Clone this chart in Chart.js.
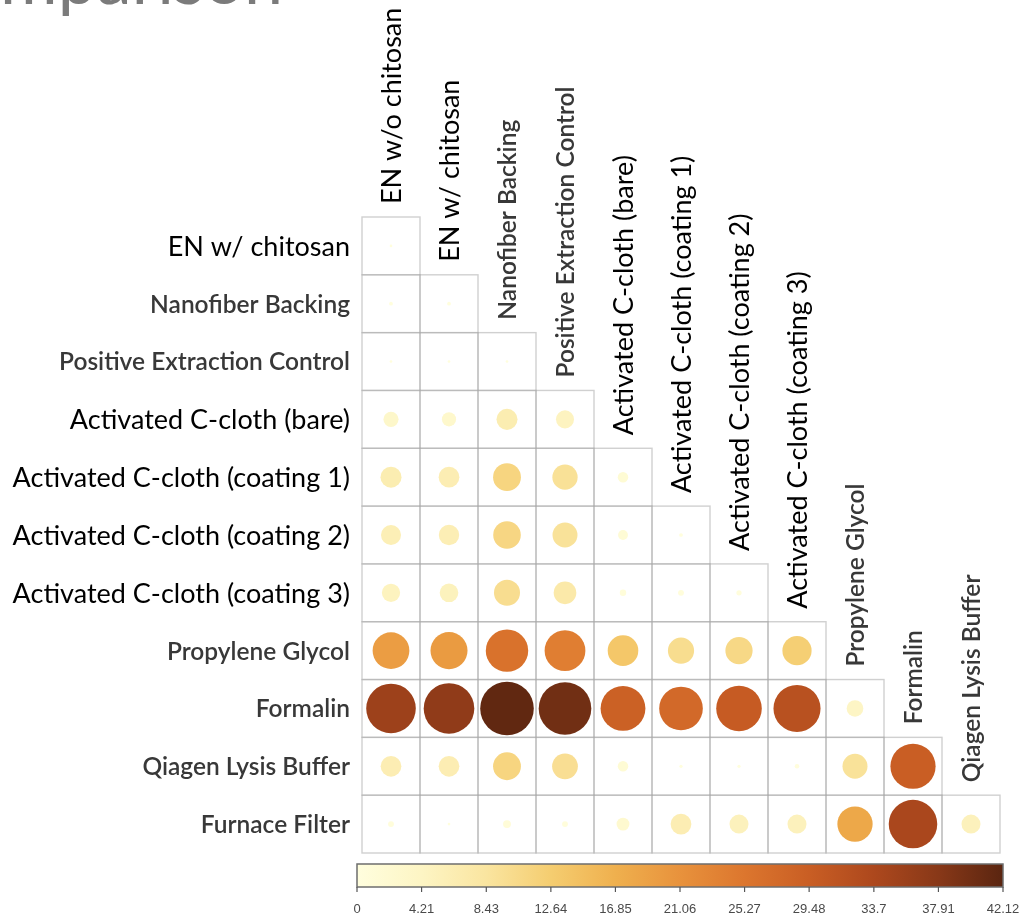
<!DOCTYPE html>
<html>
<head>
<meta charset="utf-8">
<script src="https://cdn.jsdelivr.net/npm/chart.js@4.4.0/dist/chart.umd.min.js"></script>
<style>
  html, body { margin: 0; padding: 0; background: #ffffff; }
  canvas { display: block; }
</style>
</head>
<body>
<canvas id="c" width="1019" height="919"></canvas>
<script>
// Row categories (top to bottom)
const rowLabels = [
  "EN w/ chitosan",
  "Nanofiber Backing",
  "Positive Extraction Control",
  "Activated C-cloth (bare)",
  "Activated C-cloth (coating 1)",
  "Activated C-cloth (coating 2)",
  "Activated C-cloth (coating 3)",
  "Propylene Glycol",
  "Formalin",
  "Qiagen Lysis Buffer",
  "Furnace Filter"
];

// Column categories (left to right)
const colLabels = [
  "EN w/o chitosan",
  "EN w/ chitosan",
  "Nanofiber Backing",
  "Positive Extraction Control",
  "Activated C-cloth (bare)",
  "Activated C-cloth (coating 1)",
  "Activated C-cloth (coating 2)",
  "Activated C-cloth (coating 3)",
  "Propylene Glycol",
  "Formalin",
  "Qiagen Lysis Buffer"
];

// Pairwise values, lower triangle: row i holds columns 0..i
const rowEnChitosan   = [0.1];
const rowNanofiber    = [0.2, 0.2];
const rowPositiveCtrl = [0.1, 0.1, 0.1];
const rowClothBare    = [3.3, 2.9, 6.4, 4.7];
const rowClothCoat1   = [6.4, 6.2, 11.2, 9.2, 1.6];
const rowClothCoat2   = [5.8, 6.0, 11.0, 9.0, 1.4, 0.2];
const rowClothCoat3   = [4.8, 5.0, 9.8, 7.4, 0.6, 0.5, 0.4];
const rowPropGlycol   = [19.5, 19.8, 26.0, 24.0, 13.5, 9.9, 10.7, 12.3];
const rowFormalin     = [35.5, 37.0, 41.5, 40.0, 29.0, 27.5, 30.0, 32.0, 4.0];
const rowQiagen       = [6.2, 6.2, 11.2, 9.6, 1.6, 0.15, 0.15, 0.3, 9.0, 29.5];
const rowFurnace      = [0.5, 0.1, 0.9, 0.5, 2.4, 6.2, 5.2, 5.2, 18.0, 34.0, 5.2];

const valueRows = [
  rowEnChitosan, rowNanofiber, rowPositiveCtrl, rowClothBare, rowClothCoat1,
  rowClothCoat2, rowClothCoat3, rowPropGlycol, rowFormalin, rowQiagen, rowFurnace
];

// Colour scale range and its tick labels
const valueMin = 0;
const valueMax = 42.12;
const colorTicks = [0, 4.21, 8.43, 12.64, 16.85, 21.06, 25.27, 29.48, 33.7, 37.91, 42.12];

// Labels rendered in the softer grey style
const mutedLabels = new Set([
  "Nanofiber Backing", "Positive Extraction Control", "Propylene Glycol",
  "Formalin", "Qiagen Lysis Buffer", "Furnace Filter"
]);

// Circle area grows with the value; the largest value fills most of a cell
const MAX_RADIUS = 27;

// Sequential yellow-orange-brown palette
const palette = [
  [0.0, [255, 254, 222]],
  [0.1, [253, 245, 196]],
  [0.2, [250, 229, 160]],
  [0.3, [245, 205, 112]],
  [0.4, [239, 176, 78]],
  [0.5, [232, 146, 60]],
  [0.6, [220, 118, 46]],
  [0.7, [201, 94, 36]],
  [0.8, [173, 72, 29]],
  [0.9, [136, 56, 24]],
  [1.0, [90, 37, 16]]
];

function colorFor(v) {
  const t = Math.max(0, Math.min(1, (v - valueMin) / (valueMax - valueMin)));
  for (let k = 1; k < palette.length; k++) {
    if (t <= palette[k][0]) {
      const [t0, c0] = palette[k - 1];
      const [t1, c1] = palette[k];
      const f = (t - t0) / (t1 - t0);
      const c = c0.map((a, n) => Math.round(a + (c1[n] - a) * f));
      return `rgb(${c[0]},${c[1]},${c[2]})`;
    }
  }
  const c = palette[palette.length - 1][1];
  return `rgb(${c[0]},${c[1]},${c[2]})`;
}

function radiusFor(v) {
  return MAX_RADIUS * Math.sqrt(Math.max(0, v) / valueMax);
}

const points = [];
valueRows.forEach((row, i) => {
  row.forEach((v, j) => points.push({ x: j, y: i, v: v }));
});

const FONT = "Lato, 'Open Sans', 'Liberation Sans', sans-serif";

function labelStyle(text) {
  if (mutedLabels.has(text)) {
    return { font: `600 24.5px ${FONT}`, color: "#383838" };
  }
  return { font: `400 27px ${FONT}`, color: "#000000" };
}

const matrixDecor = {
  id: "matrixDecor",
  beforeDatasetsDraw(chart) {
    const { ctx, scales: { x, y } } = chart;
    const cw = Math.abs(x.getPixelForValue(1) - x.getPixelForValue(0));
    const ch = Math.abs(y.getPixelForValue(1) - y.getPixelForValue(0));
    ctx.save();
    ctx.lineWidth = 1.4;
    ctx.strokeStyle = "rgba(170,170,170,0.55)";
    valueRows.forEach((row, i) => {
      row.forEach((_, j) => {
        const cx = x.getPixelForValue(j);
        const cy = y.getPixelForValue(i);
        ctx.strokeRect(cx - cw / 2, cy - ch / 2, cw, ch);
      });
    });
    ctx.restore();
  },
  afterDraw(chart) {
    const { ctx, scales: { x, y } } = chart;
    const ch = Math.abs(y.getPixelForValue(1) - y.getPixelForValue(0));
    ctx.save();

    // Row labels, right-aligned beside the grid
    ctx.textAlign = "right";
    ctx.textBaseline = "middle";
    rowLabels.forEach((lab, i) => {
      const st = labelStyle(lab);
      ctx.font = st.font;
      ctx.fillStyle = st.color;
      ctx.fillText(lab, chart.chartArea.left - 12, y.getPixelForValue(i) + 1);
    });

    // Column labels, vertical, sitting on top of each column's first cell
    colLabels.forEach((lab, j) => {
      const st = labelStyle(lab);
      const top = y.getPixelForValue(j) - ch / 2;
      ctx.save();
      ctx.translate(x.getPixelForValue(j) + 1, top - 13);
      ctx.rotate(-Math.PI / 2);
      ctx.textAlign = "left";
      ctx.textBaseline = "middle";
      ctx.font = st.font;
      ctx.fillStyle = st.color;
      ctx.fillText(lab, 0, 0);
      ctx.restore();
    });

    // Colour bar
    const barL = 357, barR = 1003, barT = 864, barB = 887;
    const grad = ctx.createLinearGradient(barL, 0, barR, 0);
    palette.forEach(([t, c]) => grad.addColorStop(t, `rgb(${c[0]},${c[1]},${c[2]})`));
    ctx.fillStyle = grad;
    ctx.fillRect(barL, barT, barR - barL, barB - barT);
    ctx.lineWidth = 1.5;
    ctx.strokeStyle = "#6e6e6e";
    ctx.strokeRect(barL, barT, barR - barL, barB - barT);

    ctx.font = `13px 'Liberation Sans', Arial, sans-serif`;
    ctx.fillStyle = "#4a4a4a";
    ctx.textAlign = "center";
    ctx.textBaseline = "middle";
    ctx.strokeStyle = "#555555";
    ctx.lineWidth = 1.2;
    colorTicks.forEach(t => {
      const px = barL + (t - valueMin) / (valueMax - valueMin) * (barR - barL);
      ctx.beginPath();
      ctx.moveTo(px, barB);
      ctx.lineTo(px, barB + 5);
      ctx.stroke();
      ctx.fillText(String(t), px, 909);
    });

    // Heading, running off the top-left corner
    ctx.font = `400 70px ${FONT}`;
    ctx.fillStyle = "#7b7b7b";
    ctx.textAlign = "right";
    ctx.textBaseline = "alphabetic";
    ctx.fillText("Comparison", 283, 4);

    ctx.restore();
  }
};

new Chart(document.getElementById("c"), {
  type: "bubble",
  data: {
    datasets: [{
      data: points,
      borderWidth: 0,
      backgroundColor: ctx => colorFor(ctx.raw ? ctx.raw.v : 0),
      radius: ctx => radiusFor(ctx.raw ? ctx.raw.v : 0)
    }]
  },
  options: {
    responsive: false,
    animation: false,
    events: [],
    layout: { autoPadding: false, padding: { left: 362, top: 217, right: 19, bottom: 66 } },
    plugins: { legend: { display: false }, tooltip: { enabled: false } },
    scales: {
      x: { type: "linear", min: -0.5, max: 10.5, display: false },
      y: { type: "linear", min: -0.5, max: 10.5, reverse: true, display: false }
    }
  },
  plugins: [matrixDecor]
});
</script>
</body>
</html>
